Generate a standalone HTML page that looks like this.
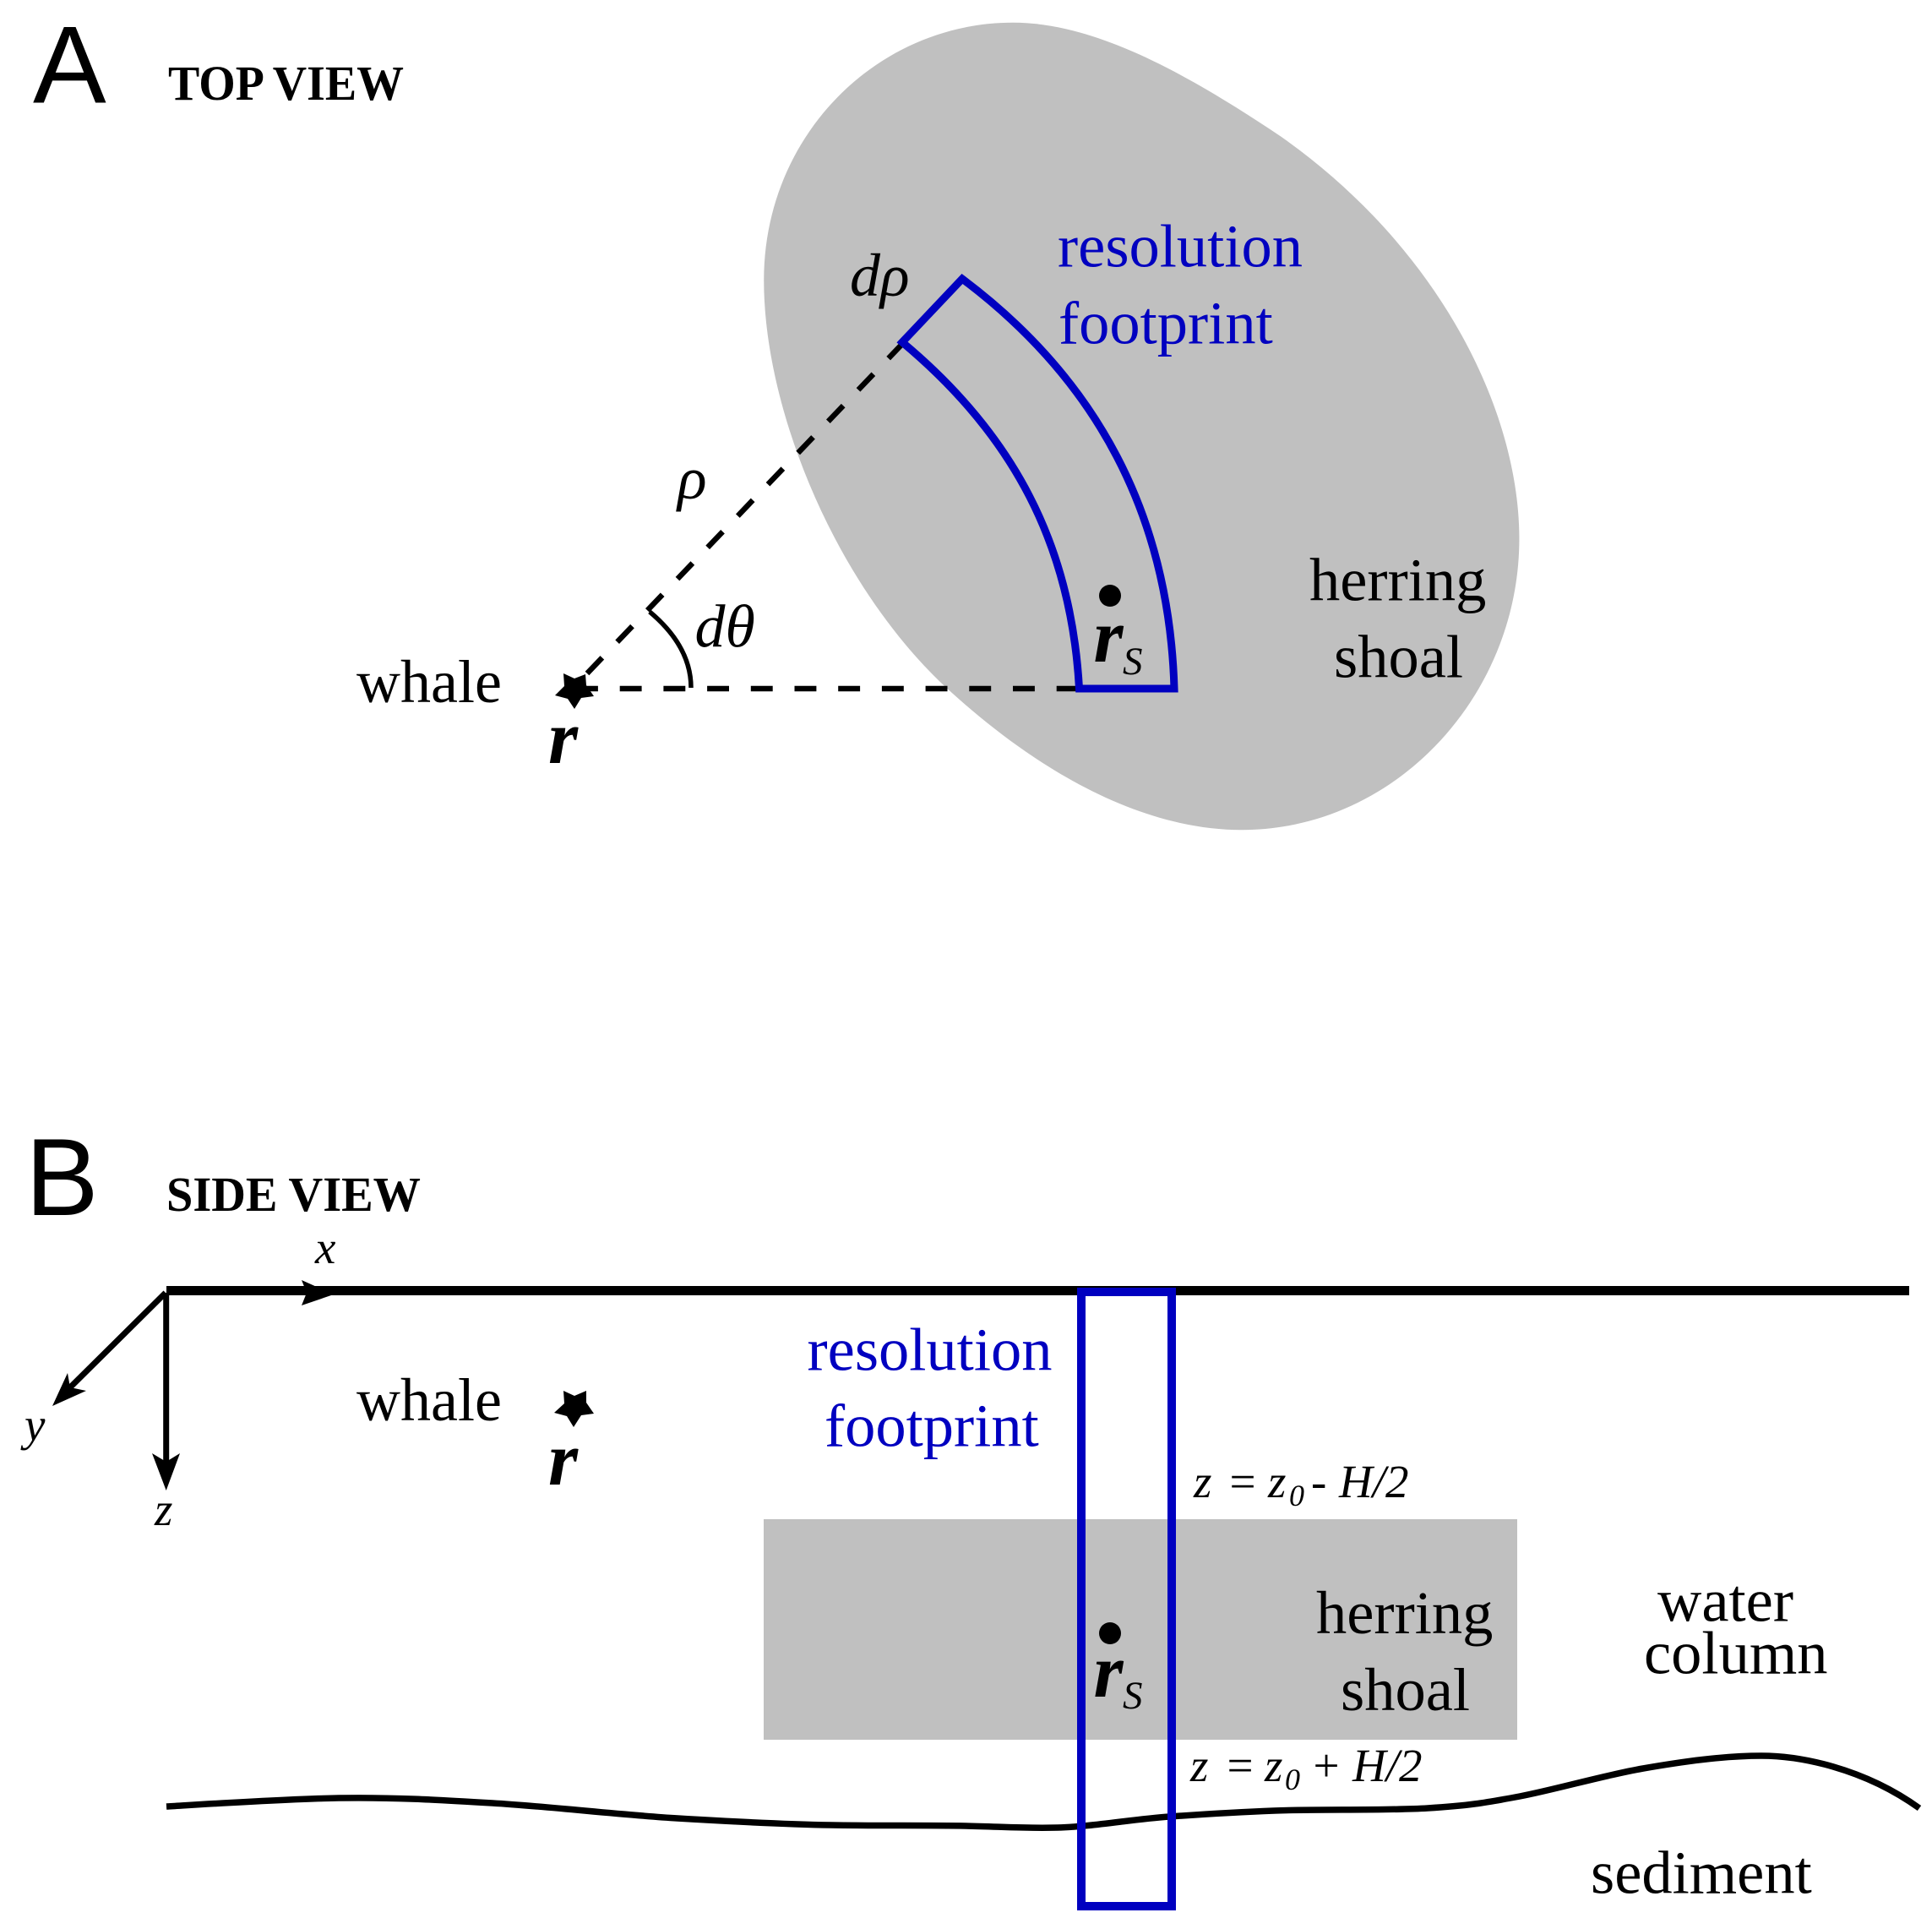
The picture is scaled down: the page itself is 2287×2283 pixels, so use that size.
<!DOCTYPE html>
<html>
<head>
<meta charset="utf-8">
<style>
html,body{margin:0;padding:0;background:#fff}
svg{display:block}
text{font-family:"Liberation Serif",serif;fill:#000}
.sans{font-family:"Liberation Sans",sans-serif}
.i{font-style:italic}
.bi{font-style:italic;font-weight:bold}
.b{font-weight:bold}
.blue{fill:#0000c0}
</style>
</head>
<body>
<svg xmlns="http://www.w3.org/2000/svg" width="2287" height="2283" viewBox="0 0 2287 2283">
<rect width="2287" height="2283" fill="#fff"/>

<!-- Panel A -->
<g transform="translate(880,0) scale(.6378)">
<path fill="#c0c0c0" d="M38 520 C38 250 250 42 500 42 C640 42 800 120 1000 255 C1290 460 1440 760 1440 1000 C1440 1290 1210 1540 925 1540 C720 1540 520 1410 370 1270 C170 1080 38 760 38 520 Z"/>
</g>

<text class="sans" x="39" y="121.5" font-size="130">A</text>
<text class="b" x="199" y="118" font-size="58" textLength="279" lengthAdjust="spacingAndGlyphs">TOP VIEW</text>

<!-- dashed lines -->
<line x1="682" y1="815" x2="1277" y2="815" stroke="#000" stroke-width="6.5" stroke-dasharray="25.9 25.8"/>
<line x1="695" y1="797" x2="1070" y2="405" stroke="#000" stroke-width="6.5" stroke-dasharray="25.8 25.8"/>
<path d="M769 724 Q818 765 818 814" fill="none" stroke="#000" stroke-width="5.5"/>

<!-- footprint top -->
<path fill="none" stroke="#0000c0" stroke-width="9" stroke-linejoin="miter" d="M1068 405 L1139 330 C1299 450 1384 610 1390 815 L1277.5 815 C1268 645 1200 515 1068 405 Z"/>

<circle cx="1314" cy="705" r="13" fill="#000"/>

<polygon fill="#000" points="667,797 680,803 693,798 694,811 703,824 688,826 680,839 672,827 657,823 668,812"/>

<text class="i" x="1006" y="350" font-size="72">dρ</text>
<text class="i" x="802" y="590" font-size="72">ρ</text>
<text class="i" x="822.5" y="765.5" font-size="72">dθ</text>
<text x="422" y="831" font-size="72">whale</text>
<text class="bi" x="649" y="903" font-size="90">r</text>
<text class="bi" x="1294.5" y="783" font-size="90">r</text>
<text class="i" x="1329" y="798" font-size="47">S</text>
<text class="blue" x="1252" y="315.5" font-size="72.5">resolution</text>
<text class="blue" x="1253" y="406.5" font-size="72.5">footprint</text>
<text x="1550" y="710.5" font-size="72.5">herring</text>
<text x="1579" y="801.5" font-size="72.5">shoal</text>

<!-- Panel B -->
<text class="sans" x="30" y="1438" font-size="130">B</text>
<text class="b" x="197" y="1433" font-size="58" textLength="301" lengthAdjust="spacingAndGlyphs">SIDE VIEW</text>

<rect x="904" y="1798" width="892" height="261" fill="#c0c0c0"/>

<line x1="197" y1="1527.5" x2="2260" y2="1527.5" stroke="#000" stroke-width="11"/>

<!-- axes -->
<polygon points="357,1515 395,1532 357,1545 363,1530" fill="#000"/>
<line x1="196.7" y1="1530" x2="196.7" y2="1730" stroke="#000" stroke-width="7"/>
<polygon points="180,1720 196.7,1730 213,1720 196.7,1764" fill="#000"/>
<line x1="196" y1="1530" x2="83" y2="1642" stroke="#000" stroke-width="7"/>
<polygon points="80,1625 83,1642 102,1646 62,1664" fill="#000"/>

<text class="i" x="373" y="1495" font-size="55">x</text>
<text class="i" x="29" y="1705" font-size="55">y</text>
<text class="i" x="183" y="1805" font-size="55">z</text>

<path fill="none" stroke="#000" stroke-width="7.5" d="M197 2138 C231 2136 337 2129 401 2128 C465 2127 516 2130 583 2134 C650 2138 735 2148 802 2152 C869 2156 927 2159 984 2160 C1041 2161 1098 2160 1143 2161 C1188 2162 1212 2164 1252 2163 C1292 2162 1341 2153 1384 2150 C1427 2147 1457 2145 1508 2143 C1559 2141 1641 2143 1690 2140 C1738 2137 1756 2134 1799 2126 C1841 2118 1899 2101 1945 2093 C1991 2085 2040 2078 2085 2078 C2130 2078 2205 2092 2272 2140"/>

<rect x="1280" y="1529" width="107" height="727" fill="none" stroke="#0000c0" stroke-width="10"/>

<circle cx="1314" cy="1933" r="13" fill="#000"/>
<polygon fill="#000" points="667,1646 680,1652 694,1646 694,1660 703,1673 688,1675 679,1689 671,1676 656,1672 668,1661"/>

<text x="422" y="1681" font-size="72">whale</text>
<text class="bi" x="649" y="1757" font-size="90">r</text>
<text class="bi" x="1294.5" y="2008" font-size="90">r</text>
<text class="i" x="1329" y="2022" font-size="47">S</text>

<text class="blue" x="955.5" y="1621.5" font-size="72.5">resolution</text>
<text class="blue" x="976" y="1711.5" font-size="72.5">footprint</text>
<text x="1558" y="1933" font-size="72.5">herring</text>
<text x="1587" y="2024" font-size="72.5">shoal</text>
<text x="1962" y="1918.5" font-size="72.5">water</text>
<text x="1946" y="1980.5" font-size="72.5">column</text>
<text x="1883" y="2240.5" font-size="72.5">sediment</text>

<text class="i" x="1413" y="1772" font-size="55">z</text>
<text class="i" x="1452" y="1772" font-size="55">=</text>
<text class="i" x="1501" y="1772" font-size="55">z</text>
<text class="i" x="1526" y="1782" font-size="36">0</text>
<text class="i" x="1552" y="1772" font-size="55">-</text>
<text class="i" x="1585" y="1772" font-size="55">H/2</text>

<text class="i" x="1409" y="2108" font-size="55">z</text>
<text class="i" x="1449" y="2108" font-size="55">=</text>
<text class="i" x="1497" y="2108" font-size="55">z</text>
<text class="i" x="1521" y="2118" font-size="36">0</text>
<text class="i" x="1551" y="2108" font-size="55">+</text>
<text class="i" x="1601" y="2108" font-size="55">H/2</text>
</svg>
</body>
</html>
